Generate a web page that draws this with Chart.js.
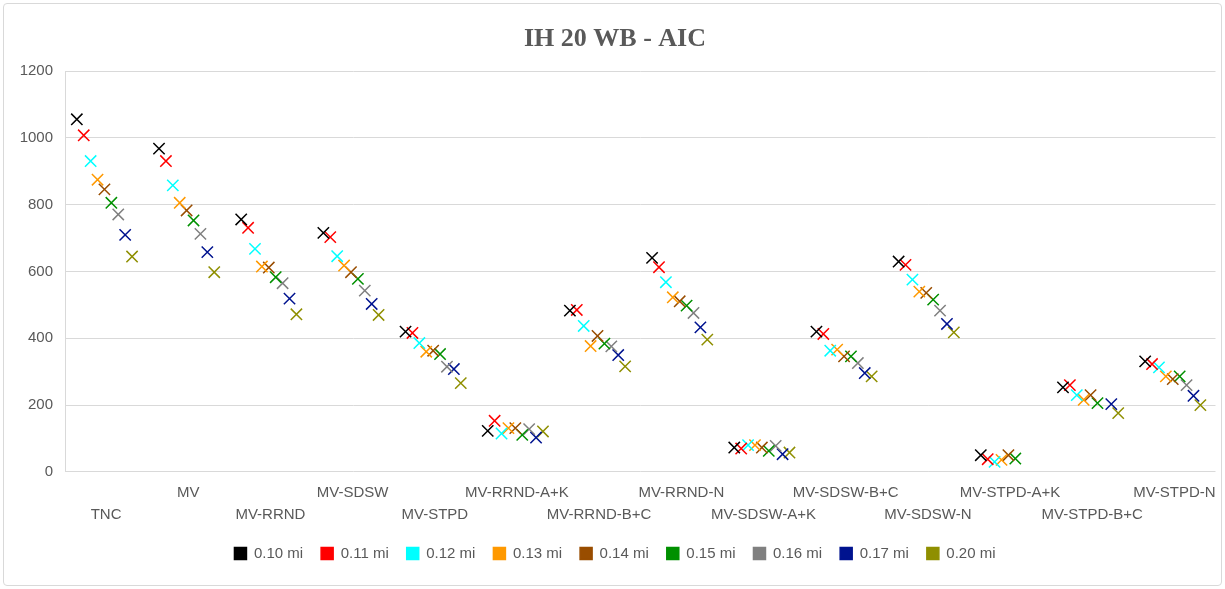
<!DOCTYPE html>
<html>
<head>
<meta charset="utf-8">
<script src="https://cdn.jsdelivr.net/npm/chart.js@4"></script>
<style>
  body { margin: 0; background: #fff; }
  #wrap { position: relative; width: 1225px; height: 589px; }
  #frame { position: absolute; left: 3px; top: 3px; width: 1217px; height: 581px;
           border: 1px solid #d9d9d9; border-radius: 4px; pointer-events: none; }
</style>
</head>
<body>
<div id="wrap">
  <canvas id="aicChart"></canvas>
  <div id="frame"></div>
</div>
<script>
// Categories along the x axis
const categories = ['TNC', 'MV', 'MV-RRND', 'MV-SDSW', 'MV-STPD', 'MV-RRND-A+K', 'MV-RRND-B+C',
    'MV-RRND-N', 'MV-SDSW-A+K', 'MV-SDSW-B+C', 'MV-SDSW-N', 'MV-STPD-A+K', 'MV-STPD-B+C', 'MV-STPD-N'];

// AIC per distance (one value per category, null = no point)
const aic010 = [1056, 968, 756, 716, 420, 123, 483, 641, 73, 420, 630, 50, 253, 331];
const aic011 = [1008, 931, 731, 703, 416, 153, 485, 613, 70, 413, 620, 38, 260, 323];
const aic012 = [931, 858, 668, 646, 386, 115, 437, 568, 80, 363, 576, 30, 230, 313];
const aic013 = [875, 806, 615, 618, 360, 131, 377, 523, 80, 366, 540, 36, 216, 286];
const aic014 = [846, 783, 612, 598, 363, 131, 407, 511, 73, 346, 536, 50, 230, 278];
const aic015 = [806, 753, 583, 578, 353, 111, 384, 498, 63, 346, 516, 40, 206, 286];
const aic016 = [771, 713, 565, 543, 315, 128, 376, 476, 78, 326, 483, null, null, 260];
const aic017 = [710, 658, 519, 503, 308, 103, 350, 433, 53, 296, 443, null, 203, 228];
const aic020 = [645, 598, 472, 470, 266, 121, 316, 396, 58, 286, 418, null, 176, 200];

const seriesLabels = ['0.10 mi', '0.11 mi', '0.12 mi', '0.13 mi', '0.14 mi', '0.15 mi', '0.16 mi', '0.17 mi', '0.20 mi'];
const seriesValues = [aic010, aic011, aic012, aic013, aic014, aic015, aic016, aic017, aic020];
const seriesColors = ['#000000', '#ff0000', '#00ffff', '#ff9900', '#994d00', '#009000', '#808080', '#00138f', '#8f8f00'];

const yTicks = [0, 200, 400, 600, 800, 1000, 1200];

// small shift so the nine markers of a category sit side by side
function offset(s) {
    return (s - 4) * 0.084 - 0.02;
}

function buildDatasets() {
    return seriesValues.map((vals, s) => ({
        label: seriesLabels[s],
        data: vals.map((v, i) => v === null ? null : { x: i + offset(s), y: v }).filter(p => p !== null),
        pointStyle: 'crossRot',
        pointRadius: 8,
        pointHoverRadius: 8,
        pointBorderWidth: 1.5,
        borderColor: seriesColors[s],
        backgroundColor: seriesColors[s],
        showLine: false
    }));
}

function createChart() {
    const ctx = document.getElementById('aicChart').getContext('2d');
    new Chart(ctx, {
        type: 'scatter',
        data: { datasets: buildDatasets() },
        options: {
            responsive: true,
            maintainAspectRatio: false,
            animation: false,
            layout: { padding: { left: 12, right: 7, top: 0, bottom: 18 } },
            plugins: {
                title: {
                    display: true,
                    text: 'IH 20 WB - AIC',
                    color: '#595959',
                    font: { family: 'Liberation Serif', size: 26, weight: 'bold' },
                    padding: { top: 24, bottom: 16 }
                },
                legend: {
                    position: 'bottom',
                    labels: {
                        boxWidth: 12,
                        boxHeight: 12,
                        color: '#595959',
                        padding: 18,
                        font: { family: 'Liberation Sans', size: 15 }
                    }
                },
                tooltip: { enabled: false }
            },
            scales: {
                x: {
                    type: 'linear',
                    min: -0.5,
                    max: 13.5,
                    afterBuildTicks: scale => {
                        scale.ticks = categories.map((c, i) => ({ value: i }));
                    },
                    grid: { display: false },
                    border: { display: false },
                    ticks: {
                        autoSkip: false,
                        maxRotation: 0,
                        minRotation: 0,
                        padding: 2,
                        color: '#595959',
                        font: { family: 'Liberation Sans', size: 15, lineHeight: 1.47 },
                        callback: value => {
                            const name = categories[value];
                            if (name === undefined) return '';
                            return value % 2 === 0 ? ['', name] : [name, ''];
                        }
                    }
                },
                y: {
                    min: 0,
                    max: 1200,
                    afterBuildTicks: scale => {
                        scale.ticks = yTicks.map(v => ({ value: v }));
                    },
                    afterFit: scale => {
                        scale.width = 53;
                    },
                    grid: { color: '#d9d9d9', lineWidth: 1, drawTicks: false },
                    border: { display: true, color: '#d9d9d9' },
                    ticks: {
                        padding: 12,
                        color: '#595959',
                        font: { family: 'Liberation Sans', size: 15 },
                        callback: value => String(value)
                    }
                }
            }
        }
    });
}

window.addEventListener('load', createChart);
</script>
</body>
</html>
